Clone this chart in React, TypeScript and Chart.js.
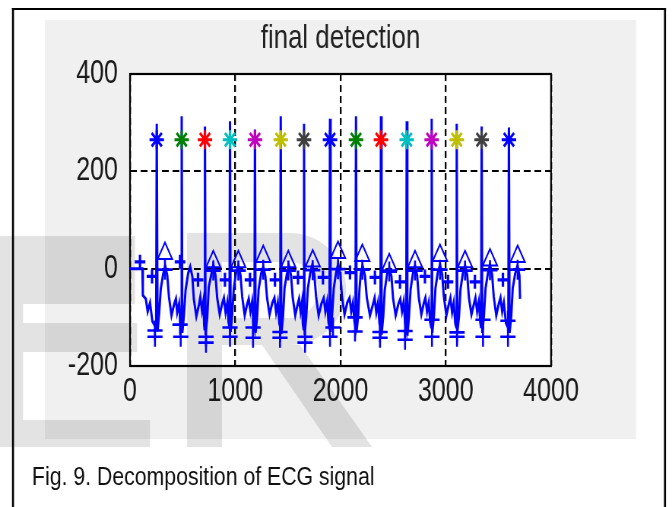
import React, { useEffect, useRef } from "react";
import { Chart, registerables } from "chart.js";

Chart.register(...registerables);

const FONT = "'Liberation Sans', Arial, sans-serif";
// horizontal squash of the figure (canvas bitmap is drawn wider, shown at 672px)
const SQ = 0.76;
const LOGICAL_W = Math.round(672 / SQ);
const S = 672 / LOGICAL_W;

const titleText = "final detection";
const captionText = "Fig. 9. Decomposition of ECG signal";
const xTicks = [0, 1000, 2000, 3000, 4000];
const yTicks = [-200, 0, 200, 400];

// ECG trace [sample, amplitude]
const ecgSignal: [number, number][] = [
  [0, 0], [118, 0], [122, -55], [150, -62], [168, -88], [190, -70], [212, -108], [248, -122], [254, 298], [262, -128], [276, -95], [292, -42], [314, -12], [334, 6], [354, -14], [370, -58], [394, -96], [420, -72],
  [436, -62], [448, -90], [466, -72], [478, -112], [487, -118], [491, 313], [497, -132], [512, -98], [528, -44], [552, -10], [572, 4], [592, -16], [606, -62], [630, -98], [655, -74],
  [668, -58], [684, -86], [698, -66], [704, -115], [708, -124], [712, 292], [718, -136], [734, -100], [748, -38], [772, -12], [792, 8], [812, -14], [828, -60], [852, -94], [878, -70],
  [892, -60], [908, -90], [924, -70], [936, -110], [945, -120], [950, 303], [956, -130], [970, -96], [986, -40], [1008, -8], [1030, 6], [1050, -14], [1066, -58], [1090, -96], [1114, -72],
  [1128, -62], [1144, -88], [1160, -68], [1172, -112], [1182, -122], [1187, 286], [1193, -132], [1208, -98], [1222, -42], [1246, -10], [1266, 4], [1286, -16], [1302, -60], [1326, -94], [1352, -70],
  [1372, -60], [1388, -90], [1404, -70], [1418, -112], [1427, -120], [1432, 313], [1438, -134], [1454, -98], [1468, -40], [1490, -12], [1510, 6], [1530, -14], [1546, -60], [1570, -96], [1594, -72],
  [1606, -62], [1620, -88], [1634, -68], [1642, -114], [1649, -124], [1653, 298], [1659, -136], [1674, -100], [1690, -40], [1712, -10], [1732, 8], [1752, -14], [1768, -58], [1792, -96], [1818, -72],
  [1840, -60], [1856, -88], [1872, -68], [1886, -110], [1895, -120], [1900, 308], [1906, -130], [1920, -96], [1936, -40], [1958, -8], [1978, 10], [1998, -12], [2014, -58], [2038, -94], [2064, -70],
  [2086, -60], [2102, -88], [2118, -70], [2132, -108], [2142, -118], [2147, 313], [2153, -128], [2168, -96], [2180, -42], [2192, -10], [2210, 6], [2232, -14], [2250, -60], [2280, -96], [2310, -72],
  [2324, -60], [2340, -90], [2356, -70], [2370, -112], [2379, -122], [2384, 313], [2390, -136], [2406, -98], [2420, -44], [2442, -12], [2464, 2], [2484, -16], [2500, -62], [2524, -96], [2550, -72],
  [2568, -62], [2584, -88], [2600, -68], [2614, -112], [2624, -124], [2629, 303], [2635, -138], [2650, -100], [2666, -42], [2688, -10], [2708, 6], [2728, -14], [2744, -60], [2768, -94], [2792, -70],
  [2806, -60], [2822, -88], [2838, -70], [2852, -110], [2861, -120], [2866, 308], [2872, -132], [2888, -96], [2902, -40], [2924, -8], [2946, 8], [2966, -12], [2982, -58], [3006, -96], [3030, -72],
  [3044, -60], [3060, -90], [3076, -70], [3090, -112], [3099, -120], [3104, 298], [3110, -130], [3126, -98], [3140, -42], [3162, -10], [3184, 6], [3204, -14], [3220, -60], [3244, -94], [3268, -72],
  [3282, -60], [3298, -88], [3314, -68], [3328, -110], [3336, -122], [3341, 292], [3347, -132], [3362, -98], [3378, -40], [3400, -10], [3420, 8], [3440, -12], [3456, -58], [3480, -96], [3504, -72],
  [3520, -60], [3536, -88], [3552, -70], [3572, -112], [3594, -122], [3600, 290], [3606, -132], [3622, -98], [3636, -40], [3660, -10], [3682, 6], [3700, -14], [3706, -62], [3712, -62],
];

// R-peak detections (stars)
const rPeakX = [254, 491, 712, 950, 1187, 1432, 1653, 1900, 2147, 2384, 2629, 2866, 3104, 3341, 3600];
const rPeakY = [265, 265, 265, 265, 265, 265, 265, 265, 265, 265, 265, 265, 265, 265, 265];
const rPeakColors = ["#0000ff", "#008000", "#ff0000", "#00bfbf", "#bf00bf", "#bfbf00", "#404040", "#0000ff", "#008000", "#ff0000", "#00bfbf", "#bf00bf", "#bfbf00", "#404040", "#0000ff"];

// T-wave detections (triangles) and T markers (crosses)
const tWaveX = [332, 791, 1029, 1266, 1504, 1736, 1976, 2207, 2463, 2708, 2945, 3183, 3420, 3683];
const tWaveY = [31, 14, 14, 25, 14, 16, 33, 27, 8, 14, 27, 14, 18, 25];
const tMarkY = [-2, -4, -4, -2, -4, -3, -1, -2, -6, -4, -2, -4, -3, -2];

// S detections (lower crosses)
const sPointX = [237, 482, 722, 950, 1169, 1425, 1663, 1900, 2138, 2375, 2613, 2869, 3107, 3354, 3591];
const sPointY = [-140, -140, -152, -140, -142, -142, -152, -140, -129, -142, -146, -140, -140, -140, -140];

// Q detections (upper crosses)
const qPointX = [237, 475, 722, 950, 1169, 1425, 1663, 1929, 2138, 2375, 2613, 2869, 3107, 3354, 3591];
const qPointY = [-127, -115, -140, -121, -121, -130, -140, -121, -100, -130, -128, -105, -131, -105, -107];

// P detections (crosses near baseline)
const pPointX = [95, 209, 475, 646, 902, 1140, 1377, 1596, 1833, 2090, 2327, 2565, 2802, 3021, 3277, 3543];
const pPointY = [14, -16, 14, -23, -23, -23, -23, -18, -18, -8, -18, -27, -16, -27, -27, -23];

const zip = (xs: number[], ys: number[]) => xs.map((x, i) => ({ x, y: ys[i] }));
const L = (pagePx: number) => pagePx / S; // page x -> bitmap x

const figPlugin = {
  id: "fig",
  beforeDraw(chart: any) {
    const { ctx, chartArea: a } = chart;
    ctx.save();
    ctx.fillStyle = "#ffffff";
    ctx.fillRect(0, 0, chart.width, chart.height);
    ctx.scale(1 / S, 1);
    ctx.fillStyle = "#f0f0f0";
    ctx.fillRect(45, 20, 591, 419);
    ctx.fillStyle = "#000000";
    ctx.fillRect(12, 8, 2, 510);
    ctx.fillRect(12, 8, 654, 2);
    ctx.fillRect(664, 8, 2, 510);
    ctx.restore();
    ctx.save();
    ctx.fillStyle = "#ffffff";
    ctx.fillRect(a.left, a.top, a.right - a.left, a.bottom - a.top);
    ctx.restore();
  },
  beforeDatasetsDraw(chart: any) {
    const { ctx, chartArea: a } = chart;
    ctx.save();
    ctx.scale(1 / S, 1);
    ctx.fillStyle = "rgba(0,0,0,0.11)";
    ctx.beginPath();
    // "E"
    ctx.rect(0, 236, 23, 211);
    ctx.rect(23, 236, 112, 68);
    ctx.rect(23, 323, 114, 29);
    ctx.rect(23, 420, 127, 27);
    // "R"
    ctx.rect(187, 233, 35, 214);
    ctx.moveTo(222, 233);
    ctx.lineTo(290, 233);
    ctx.arc(290, 289, 56, -Math.PI / 2, Math.PI / 2);
    ctx.lineTo(222, 345);
    ctx.closePath();
    ctx.moveTo(222, 262);
    ctx.lineTo(290, 262);
    ctx.arc(290, 290, 28, -Math.PI / 2, Math.PI / 2);
    ctx.lineTo(222, 318);
    ctx.closePath();
    ctx.moveTo(262, 345);
    ctx.lineTo(300, 345);
    ctx.lineTo(372, 447);
    ctx.lineTo(332, 447);
    ctx.closePath();
    ctx.fill("evenodd");
    ctx.restore();
    // axes box
    ctx.save();
    ctx.strokeStyle = "#000";
    ctx.lineWidth = 2.2;
    ctx.strokeRect(a.left, a.top, a.right - a.left, a.bottom - a.top);
    ctx.restore();
  },
  afterDraw(chart: any) {
    const { ctx } = chart;
    ctx.save();
    ctx.scale(0.85 / S, 1);
    ctx.fillStyle = "#111";
    ctx.font = `25px ${FONT}`;
    ctx.textBaseline = "alphabetic";
    ctx.fillText(captionText, 32 / 0.85, 485);
    ctx.restore();
  },
};

export default function App() {
  const ref = useRef<HTMLCanvasElement | null>(null);
  useEffect(() => {
    if (!ref.current) return;
    const markerBase = { type: "scatter" as const, showLine: false };
    const crossStyle = {
      ...markerBase,
      pointStyle: "cross",
      pointRadius: 10,
      pointBorderWidth: 2.6,
      pointBorderColor: "#0000ff",
    };
    const chart = new Chart(ref.current, {
      type: "scatter",
      data: {
        datasets: [
          {
            ...markerBase,
            data: zip(rPeakX, rPeakY),
            pointStyle: "star",
            pointRadius: 9.5,
            pointBorderWidth: 3,
            pointBorderColor: rPeakColors,
            pointBackgroundColor: rPeakColors,
          },
          {
            ...markerBase,
            data: zip(tWaveX, tWaveY),
            pointStyle: "triangle",
            pointRadius: 11,
            pointBorderWidth: 2,
            pointBorderColor: "#0000ff",
            pointBackgroundColor: "rgba(0,0,0,0)",
          },
          { ...crossStyle, data: zip(tWaveX, tMarkY) },
          { ...crossStyle, data: zip(sPointX, sPointY) },
          { ...crossStyle, data: zip(qPointX, qPointY) },
          { ...crossStyle, data: zip(pPointX, pPointY), pointRadius: 7, pointBorderWidth: 3.2 },
          {
            type: "line",
            data: ecgSignal.map(([x, y]) => ({ x, y })),
            borderColor: "#0000ff",
            borderWidth: 3,
            pointRadius: 0,
            tension: 0,
            fill: false,
          } as any,
        ],
      },
      options: {
        animation: false,
        responsive: false,
        events: [],
        layout: { padding: { top: 22, left: 0, right: LOGICAL_W - L(551), bottom: 91 } },
        plugins: {
          legend: { display: false },
          tooltip: { enabled: false },
          title: {
            display: true,
            text: titleText,
            fullSize: false,
            color: "#222",
            font: { family: FONT, size: 34, weight: "normal", lineHeight: 1 },
            padding: { top: 0, bottom: 18 },
          },
        },
        scales: {
          x: {
            type: "linear",
            min: 0,
            max: 4000,
            afterBuildTicks: (s: any) => { s.ticks = xTicks.map((v) => ({ value: v })); },
            afterFit: (s: any) => { s.height = 50; },
            border: { display: false, dash: [7, 4] },
            grid: { drawTicks: false, color: "#000", lineWidth: 2.3 },
            ticks: {
              color: "#1a1a1a",
              padding: 6,
              font: { family: FONT, size: 33 },
              maxRotation: 0,
              callback: (v: any) => String(v),
            },
          },
          y: {
            type: "linear",
            min: -200,
            max: 400,
            afterBuildTicks: (s: any) => { s.ticks = yTicks.map((v) => ({ value: v })); },
            afterFit: (s: any) => { s.width = L(130); },
            border: { display: false, dash: [9, 5] },
            grid: { drawTicks: false, color: "#000", lineWidth: 1.9 },
            ticks: {
              color: "#1a1a1a",
              padding: L(12),
              font: { family: FONT, size: 33 },
              callback: (v: any) => String(v),
            },
          },
        },
      },
      plugins: [figPlugin],
    } as any);
    return () => chart.destroy();
  }, []);
  return (
    <div style={{ position: "fixed", left: 0, top: 0, width: 672, height: 507 }}>
      <canvas
        ref={ref}
        width={LOGICAL_W}
        height={507}
        style={{ width: "672px", height: "507px", display: "block" }}
      />
    </div>
  );
}
